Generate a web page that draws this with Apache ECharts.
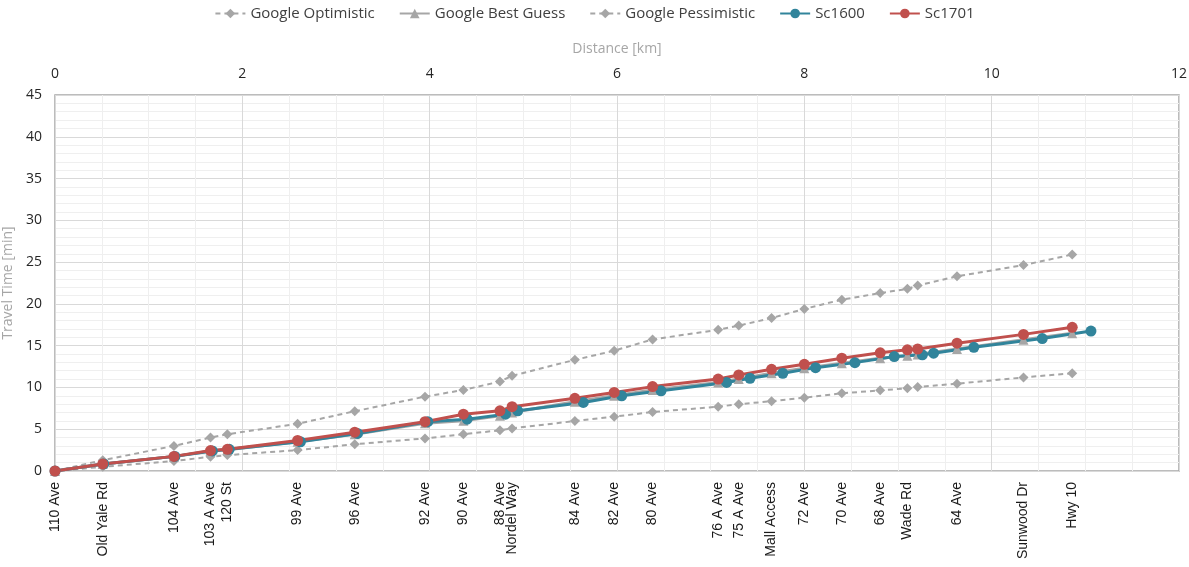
<!DOCTYPE html>
<html>
<head>
<meta charset="utf-8">
<script src="https://cdn.jsdelivr.net/npm/echarts@6/dist/echarts.min.js"></script>
<style>html,body{margin:0;padding:0;background:#fff}#c{width:1189px;height:567px}</style>
</head>
<body>
<div id="c"></div>
<script>
const stations = ['110 Ave','Old Yale Rd','104 Ave','103 A Ave','120 St','99 Ave','96 Ave','92 Ave','90 Ave','88 Ave','Nordel Way','84 Ave','82 Ave','80 Ave','76 A Ave','75 A Ave','Mall Access','72 Ave','70 Ave','68 Ave','Wade Rd','','64 Ave','Sunwood Dr','Hwy 10'];
const googleDist = [0,0.51,1.27,1.66,1.84,2.59,3.20,3.95,4.36,4.75,4.88,5.55,5.97,6.38,7.08,7.30,7.65,8.00,8.40,8.81,9.10,9.21,9.63,10.34,10.86];
const sc1600Dist = [0,0.52,1.28,1.68,1.86,2.62,3.23,3.98,4.40,4.81,4.94,5.64,6.05,6.47,7.17,7.42,7.77,8.12,8.54,8.96,9.26,9.38,9.81,10.54,11.06];
const optimistic = [0,1.3,3.0,4.0,4.4,5.65,7.15,8.9,9.7,10.7,11.4,13.3,14.4,15.75,16.9,17.4,18.3,19.4,20.5,21.3,21.8,22.2,23.3,24.65,25.9];
const bestGuess = [0,0.85,1.75,2.4,2.55,3.5,4.4,5.7,6.0,6.6,7.0,8.3,9.0,9.7,10.6,11.0,11.7,12.3,12.9,13.5,13.8,13.95,14.6,15.7,16.5];
const pessimistic = [0,0.5,1.2,1.7,1.9,2.5,3.2,3.9,4.4,4.87,5.1,5.98,6.5,7.06,7.7,8.0,8.35,8.77,9.3,9.65,9.9,10.05,10.45,11.2,11.7];
const sc1600 = [0,0.85,1.75,2.4,2.6,3.5,4.5,5.9,6.2,6.8,7.2,8.2,9.0,9.6,10.6,11.1,11.7,12.37,12.97,13.7,13.9,14.1,14.8,15.85,16.75];
const sc1701 = [0,0.85,1.75,2.45,2.6,3.65,4.65,5.9,6.8,7.2,7.7,8.7,9.4,10.1,11.0,11.5,12.17,12.77,13.5,14.15,14.5,14.6,15.3,16.35,17.2];

const pairs = (xs, ys) => xs.map((x, i) => [x, ys[i]]);
const labelFor = {};
googleDist.forEach((d, i) => { labelFor[d] = stations[i]; });

const gray = '#A6A6A6';
const teal = '#31849B';
const red = '#C0504D';
const font = 'Open Sans';

const chart = echarts.init(document.getElementById('c'));
chart.setOption({
  animation: false,
  legend: {
    top: 1, left: 'center', itemWidth: 30, itemHeight: 12, itemGap: 24,
    textStyle: { fontFamily: font, fontSize: 15, color: '#404040' },
    data: ['Google Optimistic','Google Best Guess','Google Pessimistic','Sc1600','Sc1701']
  },
  grid: { left: 55, right: 10, top: 95, bottom: 96, outerBoundsMode: 'none', containLabel: false,
    show: true, borderColor: '#A6A6A6', borderWidth: 1.5 },
  xAxis: [{
    type: 'value', position: 'top', min: 0, max: 12, interval: 2,
    name: 'Distance [km]', nameLocation: 'middle', nameGap: 39,
    nameTextStyle: { fontFamily: font, fontSize: 14, color: '#A6A6A6' },
    axisLine: { show: false }, axisTick: { show: false },
    axisLabel: { fontFamily: font, fontSize: 14, color: '#262626', margin: 14 },
    splitLine: { lineStyle: { color: '#D9D9D9', width: 1 } },
    minorTick: { show: false, splitNumber: 4 },
    minorSplitLine: { show: true, lineStyle: { color: '#EFEFEF', width: 1 } }
  }, {
    type: 'value', position: 'bottom', min: 0, max: 12,
    axisLine: { show: false }, axisTick: { show: false }, splitLine: { show: false },
    axisLabel: {
      customValues: googleDist, rotate: 90, margin: 11, hideOverlap: false,
      fontFamily: 'Liberation Sans', fontSize: 14, color: '#1a1a1a',
      formatter: v => labelFor[v] || ''
    }
  }],
  yAxis: {
    type: 'value', min: 0, max: 45, interval: 5,
    name: 'Travel Time [min]', nameLocation: 'middle', nameGap: 37,
    nameTextStyle: { fontFamily: font, fontSize: 14, color: '#A6A6A6' },
    axisLine: { show: false }, axisTick: { show: false },
    axisLabel: { fontFamily: font, fontSize: 14, color: '#262626', margin: 13 },
    splitLine: { lineStyle: { color: '#D9D9D9', width: 1 } },
    minorTick: { show: false, splitNumber: 5 },
    minorSplitLine: { show: true, lineStyle: { color: '#EFEFEF', width: 1 } }
  },
  series: [
    { name: 'Google Optimistic', type: 'line', xAxisIndex: 0, data: pairs(googleDist, optimistic),
      symbol: 'diamond', symbolSize: 10, itemStyle: { color: gray },
      lineStyle: { color: gray, width: 2, type: [5, 4] } },
    { name: 'Google Best Guess', type: 'line', xAxisIndex: 0, data: pairs(googleDist, bestGuess),
      symbol: 'triangle', symbolSize: 10, itemStyle: { color: gray },
      lineStyle: { color: gray, width: 3 } },
    { name: 'Google Pessimistic', type: 'line', xAxisIndex: 0, data: pairs(googleDist, pessimistic),
      symbol: 'diamond', symbolSize: 10, itemStyle: { color: gray },
      lineStyle: { color: gray, width: 2, type: [5, 4] } },
    { name: 'Sc1600', type: 'line', xAxisIndex: 0, data: pairs(sc1600Dist, sc1600),
      symbol: 'circle', symbolSize: 11, itemStyle: { color: teal },
      lineStyle: { color: teal, width: 3 } },
    { name: 'Sc1701', type: 'line', xAxisIndex: 0, data: pairs(googleDist, sc1701),
      symbol: 'circle', symbolSize: 11, itemStyle: { color: red },
      lineStyle: { color: red, width: 3 } }
  ]
});
</script>
</body>
</html>
